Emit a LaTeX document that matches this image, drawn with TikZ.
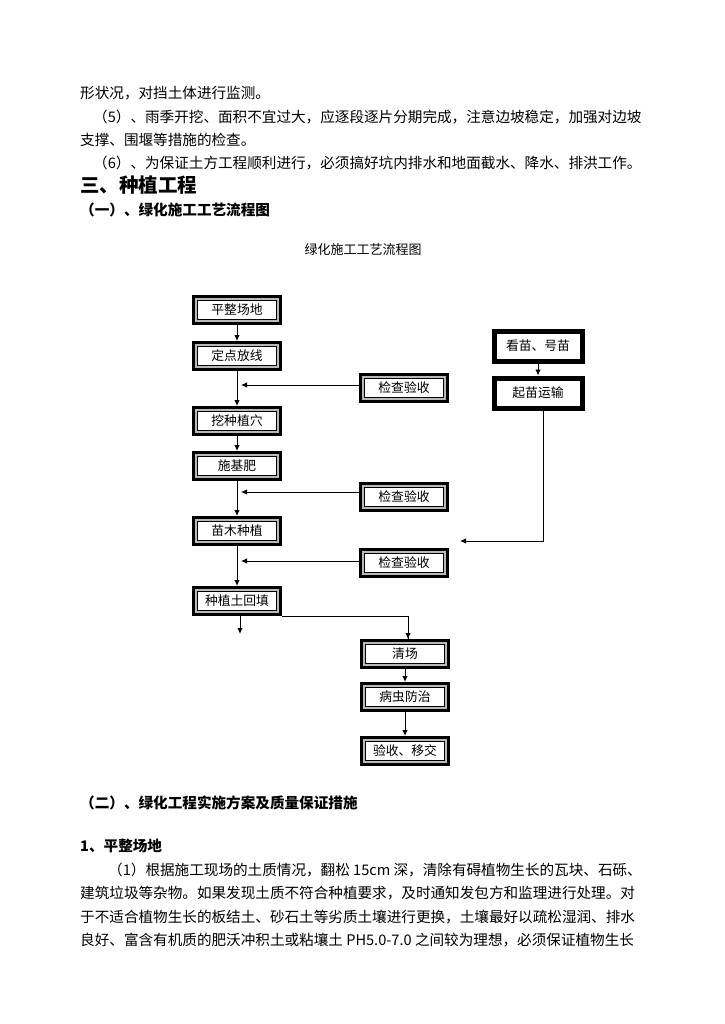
\documentclass[tikz,border=0pt]{standalone}
\usepackage{fontspec}
\setmainfont{Noto Sans CJK SC}
\usetikzlibrary{arrows.meta,calc}
\tikzset{
  body/.style={inner sep=0pt, font=\fontsize{14.6pt}{16pt}\selectfont},
  headbig/.style={inner sep=0pt, font=\fontsize{19.5pt}{21pt}\selectfont\bfseries},
  headsm/.style={inner sep=0pt, font=\fontsize{14.6pt}{16pt}\selectfont\bfseries},
  boxL/.style={minimum width=87pt, minimum height=27pt, inner sep=0pt, fill=white,
    draw=black, line width=3pt,
    font=\fontsize{12.8pt}{14pt}\selectfont,
    path picture={
      \draw[black, line width=9pt] (path picture bounding box.north west) rectangle (path picture bounding box.south east);
      \draw[gray!55, line width=7pt] (path picture bounding box.north west) rectangle (path picture bounding box.south east);
    }},
  boxR/.style={minimum width=88pt, minimum height=30pt, inner sep=0pt, fill=white,
    draw=black, line width=5pt, font=\fontsize{12.8pt}{14pt}\selectfont},
  arr/.style={draw=black, line width=0.9pt, -{Latex[length=6pt,width=5.5pt]}},
  ln/.style={draw=black, line width=0.9pt}
}
\begin{document}
\begin{tikzpicture}[x=1pt,y=-1pt]
\useasboundingbox[fill=white] (0,0) rectangle (724,1024);
% text above
\node[body,anchor=west] (t1) at (80,93) {形状况，对挡土体进行监测。};
\node[body,anchor=west] (t2) at (93,117) {（5）、雨季开挖、面积不宜过大，应逐段逐片分期完成，注意边坡稳定，加强对边坡};
\node[body,anchor=west] (t3) at (80,140) {支撑、围堰等措施的检查。};
\node[body,anchor=west] (t4) at (93,163) {（6）、为保证土方工程顺利进行，必须搞好坑内排水和地面截水、降水、排洪工作。};
\node[headbig,anchor=west] (h1) at (80,185) {三、种植工程};
\node[headsm,anchor=west] (h2) at (80,210) {（一）、绿化施工工艺流程图};
\node[inner sep=0pt,font=\fontsize{13pt}{14pt}\selectfont] (title) at (363,250) {绿化施工工艺流程图};
% left column
\node[boxL] (A) at (237,310) {平整场地};
\node[boxL] (B) at (237,356) {定点放线};
\node[boxL] (C) at (237,421) {挖种植穴};
\node[boxL] (D) at (237,466) {施基肥};
\node[boxL] (E) at (237,531) {苗木种植};
\node[boxL] (F) at (237,601) {种植土回填};
% checks
\node[boxL] (K1) at (404,388) {检查验收};
\node[boxL] (K2) at (404,497) {检查验收};
\node[boxL] (K3) at (404,563) {检查验收};
% lower right column
\node[boxL] (G) at (405,654) {清场};
\node[boxL] (H) at (405,697) {病虫防治};
\node[boxL] (I) at (405,751) {验收、移交};
% right column
\node[boxR] (R1) at (538,346) {看苗、号苗};
\node[boxR] (R2) at (538,393) {起苗运输};
% connectors
\draw[arr] (A) -- (B);
\draw[arr] (B) -- (C);
\draw[arr] (C) -- (D);
\draw[arr] (D) -- (E);
\draw[arr] (E) -- (F);
\coordinate (k1t) at (241,385);
\coordinate (k2t) at (241,492);
\coordinate (k3t) at (241,561);
\draw[arr] (K1.west |- k1t) -- (k1t);
\draw[arr] (K2.west |- k2t) -- (k2t);
\draw[arr] (K3.west |- k3t) -- (k3t);
\coordinate (fend) at (240,634);
\draw[arr] (F.south -| fend) -- (fend);
\draw[ln] (F.south east) -| ($(G.north)+(3,0)$);
\draw[arr] ($(G.north)+(3,-6)$) -- ($(G.north)+(3,0)$);
\draw[arr] (G) -- (H);
\draw[arr] (H) -- (I);
\draw[arr] (R1) -- (R2);
\coordinate (rt) at (460,541);
\draw[arr] ($(R2.south)+(5,0)$) |- (rt);
% text below
\node[headsm,anchor=west] (h3) at (80,803) {（二）、绿化工程实施方案及质量保证措施};
\node[headsm,anchor=west] (h4) at (80,846) {1、平整场地};
\node[body,anchor=west] (p1) at (108,870) {（1）根据施工现场的土质情况，翻松 15cm 深，清除有碍植物生长的瓦块、石砾、};
\node[body,anchor=west] (p2) at (80,893) {建筑垃圾等杂物。如果发现土质不符合种植要求，及时通知发包方和监理进行处理。对};
\node[body,anchor=west] (p3) at (80,917) {于不适合植物生长的板结土、砂石土等劣质土壤进行更换，土壤最好以疏松湿润、排水};
\node[body,anchor=west] (p4) at (80,940) {良好、富含有机质的肥沃冲积土或粘壤土 PH5.0-7.0 之间较为理想，必须保证植物生长};
\end{tikzpicture}
\end{document}
